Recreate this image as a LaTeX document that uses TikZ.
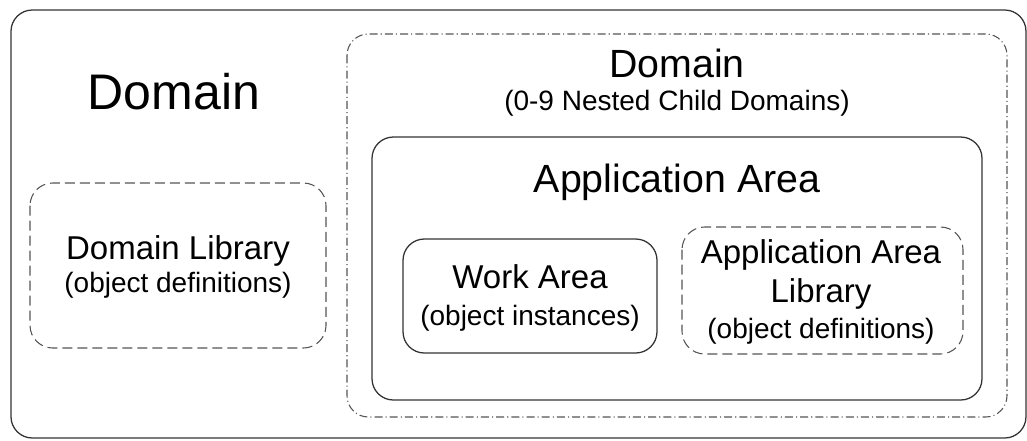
\documentclass[tikz,border=0pt]{standalone}
\usepackage{fontspec}
\setmainfont{Liberation Sans}
\usepackage{tikz}
\usetikzlibrary{calc}
\usetikzlibrary{positioning}

\definecolor{boxline}{HTML}{333333}
\definecolor{dashline}{HTML}{555555}

\begin{document}
\begin{tikzpicture}[x=0.75pt,y=-0.75pt,
	frame/.style={draw=boxline,line width=0.95pt,rounded corners=16pt},
	dashframe/.style={draw=dashline,line width=0.8pt,rounded corners=17pt,dash pattern=on 7.5pt off 3.75pt},
	dotframe/.style={draw=dashline,line width=0.8pt,rounded corners=16pt,dash pattern=on 6pt off 2.3pt on 0.8pt off 2.3pt},
	huge/.style={anchor=base,inner sep=0pt,font=\fontsize{37.5}{40}\selectfont},
	big/.style={anchor=base,inner sep=0pt,font=\fontsize{29.5}{32}\selectfont},
	mid/.style={anchor=base,inner sep=0pt,font=\fontsize{24.75}{28}\selectfont},
	small/.style={anchor=base,inner sep=0pt,font=\fontsize{21}{24}\selectfont}]
	\useasboundingbox (0,0) rectangle (1027,440);

	% boxes
	\draw [frame] (11,10) rectangle (1026,438);
	\draw [dotframe] (347,34) rectangle (1007,417);
	\draw [frame] (372,137) rectangle (982,400);
	\draw [frame] (403,239) rectangle (657,353);
	\draw [dashframe] (682,227) rectangle (963,354);
	\draw [dashframe] (30,183) rectangle (326,348);

	% labels
	\node [huge] (domain) at (174,109) {Domain};
	\node [big] (child) at (677,77) {Domain};
	\node [small] (childnote) at (677,110) {(0-9 Nested Child Domains)};
	\node [big] (appArea) at (677,192) {Application Area};
	\node [mid] (domLib) at (178,259) {Domain Library};
	\node [small] (domLibNote) at (178,292) {(object definitions)};
	\node [mid] (work) at (530,288) {Work Area};
	\node [small] (workNote) at (530,325) {(object instances)};
	\node [mid] (appLib) at (821,263) {Application Area};
	\node [mid] (appLib2) at (821,302) {Library};
	\node [small] (appLibNote) at (821,338) {(object definitions)};
\end{tikzpicture}
\end{document}
